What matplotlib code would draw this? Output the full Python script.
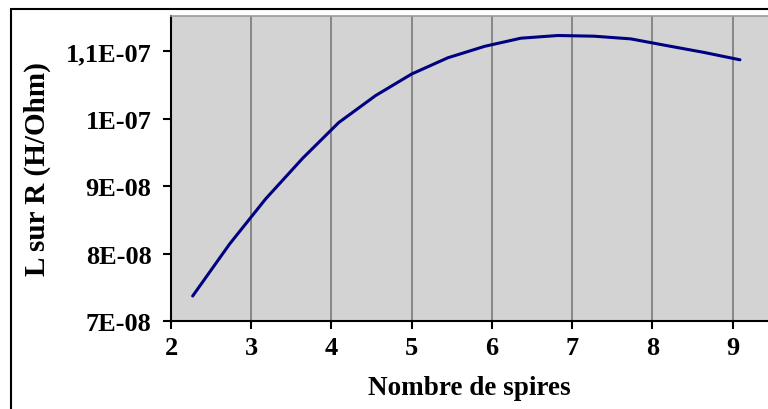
import matplotlib
matplotlib.use("Agg")
from matplotlib import pyplot as plt
from matplotlib.patches import Rectangle

# data
spires = [2.27, 2.73, 3.18, 3.64, 4.09, 4.55, 5.00, 5.45,
          5.91, 6.36, 6.82, 7.27, 7.73, 8.18, 8.64, 9.09]
l_sur_r = [7.37e-8, 8.14e-8, 8.81e-8, 9.41e-8, 9.94e-8, 10.34e-8, 10.66e-8, 10.90e-8,
           11.07e-8, 11.19e-8, 11.23e-8, 11.22e-8, 11.18e-8, 11.08e-8, 10.98e-8, 10.87e-8]
y_ticks = [7e-8, 8e-8, 9e-8, 1e-7, 1.1e-7]
y_tick_labels = ["7E-08", "8E-08", "9E-08", "1E-07", "1,1E-07"]
x_ticks = [2, 3, 4, 5, 6, 7, 8, 9]

plt.rcParams['font.family'] = ['Liberation Serif', 'DejaVu Serif']
plt.rcParams['font.weight'] = 'bold'

fig = plt.figure(figsize=(7.68, 4.10), dpi=100)
ax = fig.add_axes([171/768, 1 - 322/410, 1 - 171/768, (322 - 17)/410])
ax.set_facecolor('#d3d3d3')

ax.plot(spires, l_sur_r, color='#000080', lw=2.2, solid_capstyle='round', zorder=3)

ax.set_xlim(2, 9.44)
ax.set_ylim(7e-8, 1.1519e-7)
ax.set_xticks(x_ticks)
ax.set_xticklabels([str(t) for t in x_ticks])
ax.set_yticks(y_ticks)
ax.set_yticklabels(y_tick_labels)

for t in x_ticks[1:]:
    ax.axvline(t, color='#7a7a7a', lw=1.2, zorder=1)

ax.tick_params(axis='both', labelsize=19, width=1.5, length=6, direction='out', color='black')
ax.tick_params(axis='y', pad=8)
ax.tick_params(axis='x', pad=5)

ax.spines['left'].set_linewidth(1.5)
ax.spines['bottom'].set_linewidth(1.5)
ax.spines['right'].set_visible(False)
ax.spines['top'].set_color('#9a9a9a')
ax.spines['top'].set_linewidth(1.2)

ax.set_xlabel("Nombre de spires", fontsize=19.5, fontweight='bold', labelpad=11)
ax.set_ylabel("L sur R (H/Ohm)", fontsize=21, fontweight='bold', labelpad=11)

# outer frame of the chart
fig.patches.append(Rectangle((11/768, -0.2), 2, 1.2 - 10/410, fill=False, lw=1.5,
                             edgecolor='black', transform=fig.transFigure, clip_on=False))

fig.savefig("out.png", dpi=100)
